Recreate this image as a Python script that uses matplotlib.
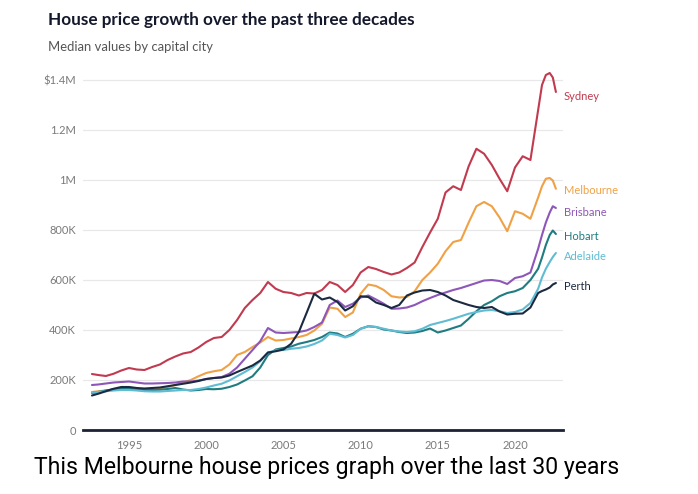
import matplotlib
matplotlib.use("Agg")
import matplotlib.pyplot as plt
from matplotlib.ticker import FixedLocator

years = [1992.6, 1993.0] + [1993.5 + 0.5 * i for i in range(57)] + [2021.75, 2022.0, 2022.25, 2022.45, 2022.65]

sydney = [224, 220, 216, 225, 238, 248, 242, 240, 252, 262, 280, 294, 306, 312, 330, 352, 368, 372, 400, 440,
          488, 520, 548, 592, 565, 552, 548, 538, 548, 546, 560, 592, 580, 552, 580, 630, 652, 644, 632, 622,
          630, 648, 670, 732, 790, 845, 950, 975, 960, 1055, 1125, 1105, 1060, 1005, 955, 1050, 1095, 1080, 1280,
          1380, 1420, 1428, 1410, 1352]
melbourne = [152, 155, 158, 162, 166, 168, 164, 158, 160, 165, 172, 180, 190, 200, 215, 228, 235, 240, 262, 300,
             312, 332, 350, 372, 358, 360, 366, 372, 380, 398, 425, 490, 485, 452, 470, 545, 582, 576, 560, 535,
             530, 532, 555, 600, 630, 665, 715, 752, 760, 830, 895, 912, 895, 850, 795, 875, 865, 845, 930,
             975, 1005, 1008, 998, 965]
brisbane = [180, 182, 186, 190, 192, 194, 190, 186, 186, 187, 188, 190, 194, 194, 198, 204, 208, 212, 225, 250,
            285, 320, 355, 408, 390, 388, 390, 392, 398, 412, 430, 500, 518, 492, 505, 530, 538, 522, 505, 485,
            486, 490, 500, 515, 528, 540, 550, 560, 568, 578, 588, 598, 600, 596, 584, 608, 615, 630, 725,
            780, 830, 870, 895, 888]
hobart = [148, 152, 158, 163, 166, 165, 162, 160, 160, 161, 164, 168, 162, 158, 160, 164, 163, 165, 172, 182,
          198, 215, 250, 300, 322, 328, 334, 345, 352, 360, 372, 390, 386, 372, 385, 405, 415, 412, 402, 398,
          392, 388, 390, 396, 406, 390, 398, 408, 418, 445, 475, 500, 515, 535, 548, 555, 568, 600, 645,
          690, 740, 780, 798, 784]
adelaide = [150, 152, 155, 158, 160, 160, 158, 155, 154, 154, 156, 158, 160, 160, 164, 170, 178, 185, 198, 215,
            232, 250, 275, 310, 318, 320, 325, 328, 334, 344, 358, 385, 380, 370, 380, 405, 415, 412, 405, 398,
            394, 392, 395, 405, 420, 428, 436, 445, 455, 465, 472, 478, 480, 475, 468, 472, 482, 508, 565,
            610, 645, 672, 692, 708]
perth = [138, 145, 155, 165, 172, 172, 168, 166, 168, 170, 175, 180, 185, 190, 196, 204, 208, 210, 218, 232,
         245, 258, 278, 310, 315, 322, 345, 392, 468, 545, 522, 530, 512, 478, 495, 535, 532, 510, 500, 488,
         500, 538, 550, 558, 560, 552, 538, 520, 510, 500, 492, 488, 492, 474, 462, 465, 466, 490, 548,
         556, 562, 570, 582, 588]

cities = ["Sydney", "Melbourne", "Brisbane", "Hobart", "Adelaide", "Perth"]
series = [sydney, melbourne, brisbane, hobart, adelaide, perth]
colors = ["#c13a4f", "#f0a145", "#8d56b8", "#1f7c80", "#5fbcd3", "#1b2a41"]
label_values = [1332, 956, 872, 776, 696, 576]

y_ticks = [0, 200, 400, 600, 800, 1000, 1200, 1400]
y_tick_labels = ["0", "200K", "400K", "600K", "800K", "1M", "1.2M", "$1.4M"]
x_ticks = [1995, 2000, 2005, 2010, 2015, 2020]
x_tick_labels = ["1995", "2000", "2005", "2010", "2015", "2020"]

plt.rcParams['font.family'] = ['Lato', 'DejaVu Sans']

fig = plt.figure(figsize=(6.98, 4.94), dpi=100)
ax = fig.add_axes([83 / 698, 1 - 430 / 494, (563 - 83) / 698, (430 - 67.5) / 494])

for name, vals, c in zip(cities, series, colors):
    ax.plot(years, [v * 1000 for v in vals], color=c, lw=1.5, solid_capstyle='round', clip_on=False, zorder=3)

ax.set_xlim(1992.02, 2023.11)
ax.set_ylim(0, 1450000)
ax.yaxis.set_major_locator(FixedLocator([t * 1000 for t in y_ticks]))
ax.set_yticklabels(y_tick_labels)
ax.xaxis.set_major_locator(FixedLocator(x_ticks))
ax.set_xticklabels(x_tick_labels)
ax.grid(axis='y', color='#e8e8e8', lw=0.9)
ax.set_axisbelow(True)
for s in ['top', 'right', 'left']:
    ax.spines[s].set_visible(False)
ax.spines['bottom'].set_color('#1b2233')
ax.spines['bottom'].set_linewidth(2.0)
ax.tick_params(axis='both', length=0, labelsize=8, labelcolor='#7a7a7a')
ax.tick_params(axis='y', pad=5)
ax.tick_params(axis='x', pad=7)

for name, lv, c in zip(cities, label_values, colors):
    ax.text(2023.15, lv * 1000, name, color=c, fontsize=8, va='center', ha='left')

fig.text(48 / 698, 1 - 20 / 494, "House price growth over the past three decades", fontsize=12.3,
         fontweight='bold', color='#14182b', va='center', ha='left')
fig.text(48 / 698, 1 - 47 / 494, "Median values by capital city", fontsize=9.4,
         color='#555555', va='center', ha='left')
fig.text(327 / 698, 1 - 467 / 494, "This Melbourne house prices graph over the last 30 years",
         fontsize=16.6, color='black', va='center', ha='center', family=['Roboto', 'DejaVu Sans'])

fig.savefig("out.png", dpi=100)
